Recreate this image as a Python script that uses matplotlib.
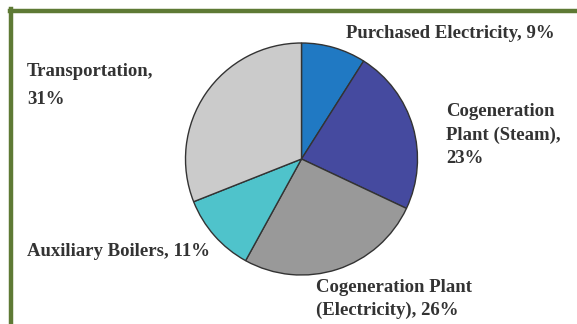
import matplotlib
matplotlib.use("Agg")
import matplotlib.pyplot as plt
from matplotlib.lines import Line2D

categories = ["Purchased Electricity", "Cogeneration Plant (Steam)",
              "Cogeneration Plant (Electricity)", "Auxiliary Boilers", "Transportation"]
values = [9, 23, 26, 11, 31]
colors = ["#2079c3", "#454a9f", "#999999", "#4fc3cb", "#cbcbcb"]
label_texts = ["Purchased Electricity, 9%", "Cogeneration\nPlant (Steam),\n23%",
               "Cogeneration Plant\n(Electricity), 26%", "Auxiliary Boilers, 11%",
               "Transportation,\n31%"]

W, H = 577, 324
fig = plt.figure(figsize=(W / 100, H / 100), dpi=100)
fig.patch.set_facecolor("white")

cx, cy, r = 301.5, 159, 116
ax = fig.add_axes([(cx - r) / W, (H - cy - r) / H, 2 * r / W, 2 * r / H])
ax.pie(values, colors=colors, startangle=90, counterclock=False, radius=1,
       wedgeprops=dict(edgecolor="#333333", linewidth=1.0))
ax.set_xlim(-1.0, 1.0)
ax.set_ylim(-1.0, 1.0)
ax.set_aspect("equal")
ax.axis("off")

# label positions in pixels (left, first-line center, line spacing)
pos = [(346, 32, 24), (446, 110, 23.5), (316, 285, 23), (27, 250, 24), (27, 70, 27)]
font = dict(family="Liberation Serif", fontsize=13.5, color="#333333", fontweight="bold")
for (px, py, ls), t in zip(pos, label_texts):
    for i, line in enumerate(t.split("\n")):
        fig.text(px / W, 1 - (py + i * ls) / H, line, ha="left", va="center_baseline", **font)

# green frame (left and top)
green = "#5e7a35"
fig.add_artist(Line2D([11 / W, 11 / W], [0, 1 - 9 / H], color=green, lw=3.2, transform=fig.transFigure))
fig.add_artist(Line2D([9.5 / W, 1], [1 - 11 / H, 1 - 11 / H], color=green, lw=3.2, transform=fig.transFigure))

fig.savefig("out.png", dpi=100, facecolor="white")
